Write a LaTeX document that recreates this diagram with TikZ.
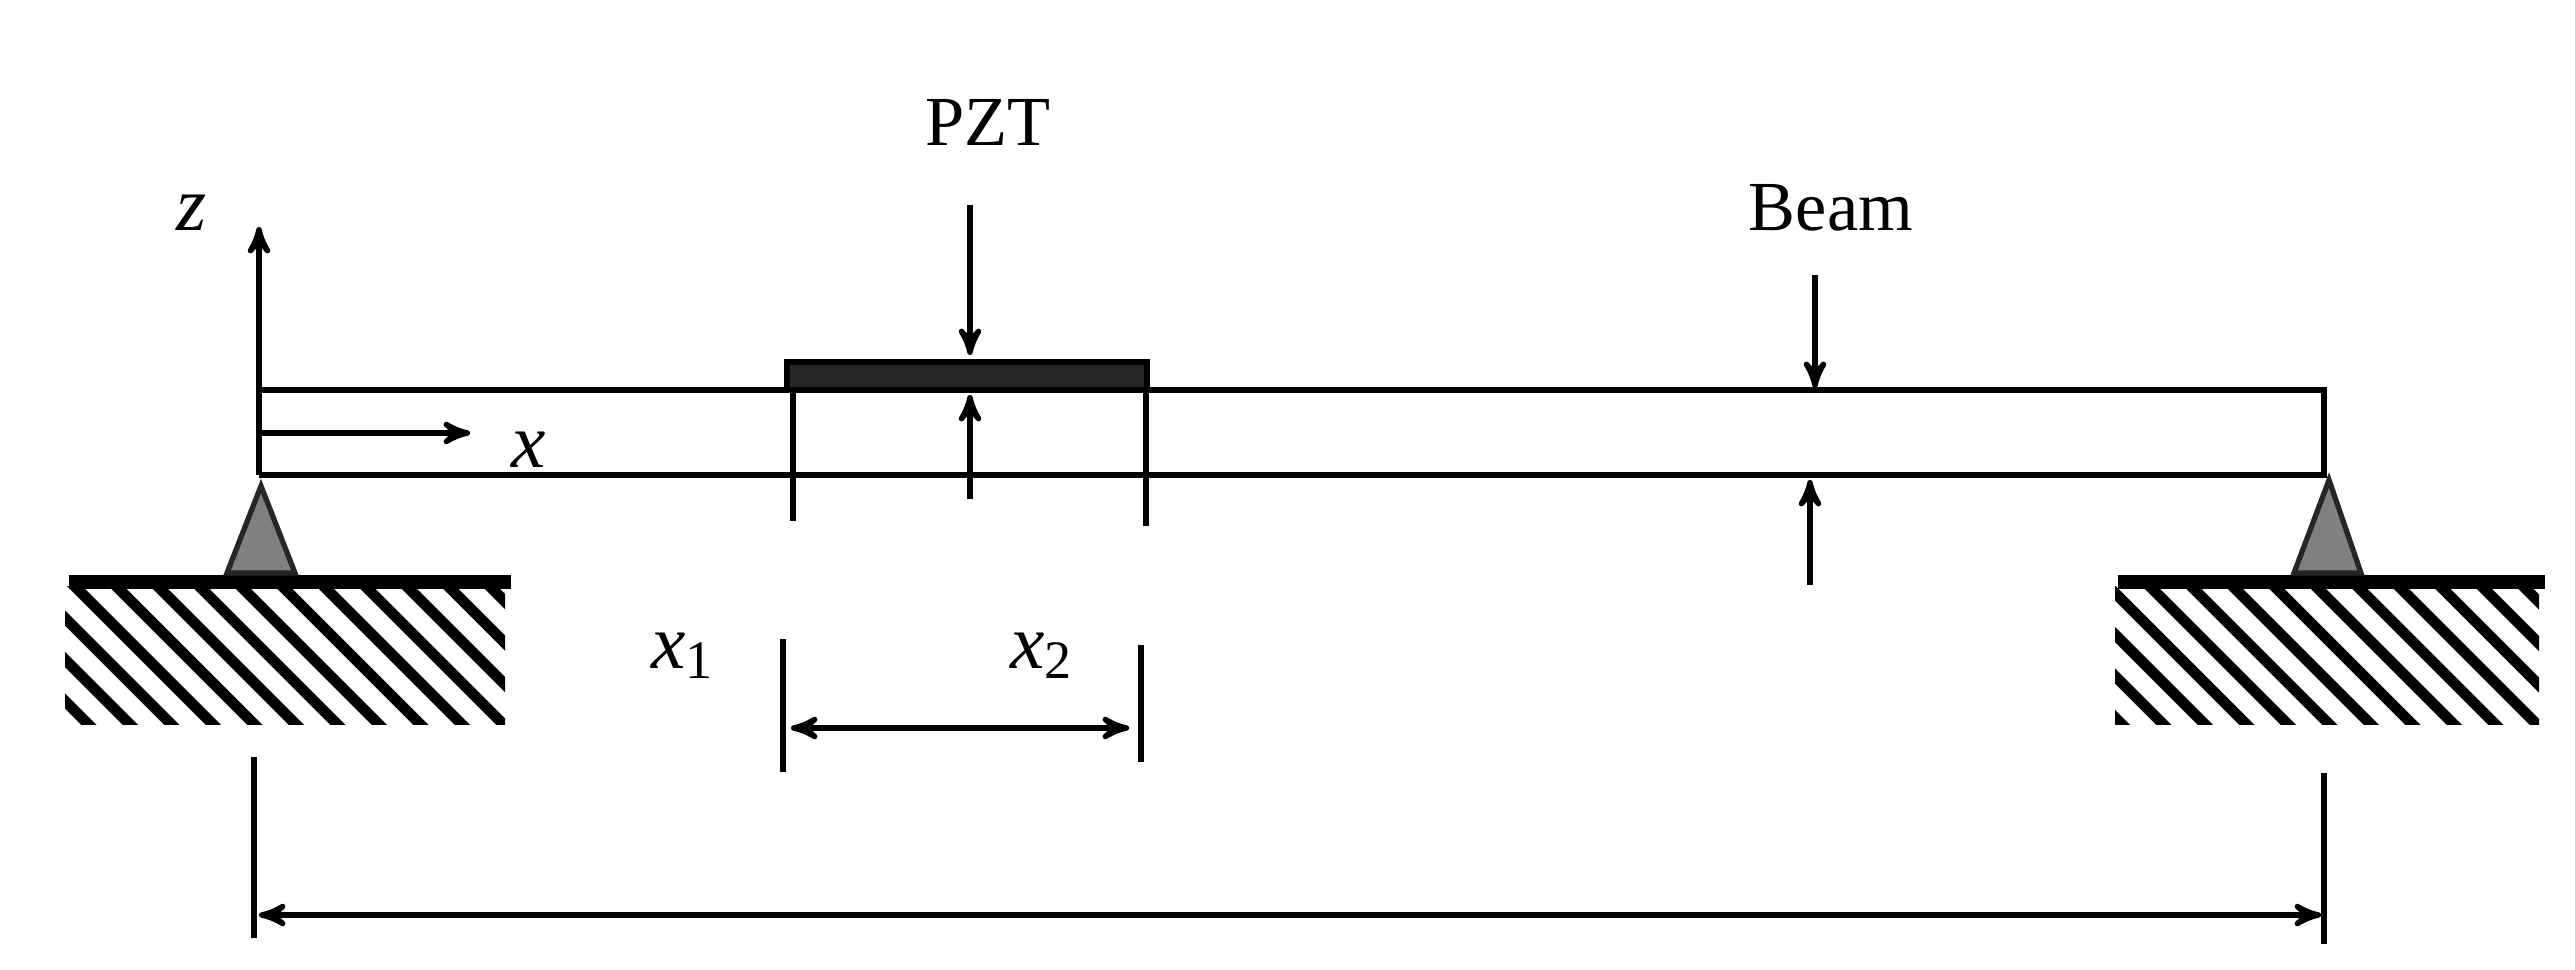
\documentclass[tikz,border=0pt]{standalone}
\usepackage{fontspec}
\setmainfont{Liberation Serif}
\usetikzlibrary{arrows}
\newcommand*\groundblock[3]{
	\begin{scope}
		\clip (#1,586) rectangle (#2,724);
		\foreach \k in {0,...,13}
			\draw[line width=3.1pt] ({#3+41.5*\k-150},574) -- ({#3+41.5*\k+10},734);
	\end{scope}
}

\begin{document}
\begin{tikzpicture}[x=0.01cm,y=-0.01cm,>=stealth',line width=1.55pt,
	lbl/.style={anchor=base,inner sep=0pt,font=\fontsize{20}{24}\selectfont},
	var/.style={anchor=base,inner sep=0pt,font=\fontsize{22}{26}\selectfont\itshape},
	support/.style={draw=black!85,fill=black!50,line width=1.5pt,line join=miter},
	ground/.style={line width=4pt}]
	\useasboundingbox (0,0) rectangle (2575,970);

	\node (pzt) [lbl] at (988,146) {PZT};
	\node (beam) [lbl] at (1831,231) {Beam};
	\node (z) [var] at (192,231) {z};
	\node (x) [var] at (529,467) {x};
	\node (xone) [var] at (683,668) {x\textsubscript{\upshape 1}};
	\node (xtwo) [var] at (1042,668) {x\textsubscript{\upshape 2}};

	\coordinate (topL) at (259,390);
	\coordinate (topR) at (2324,390);
	\coordinate (botL) at (259,475);
	\coordinate (botR) at (2324,475);
	\coordinate (ztip) at (259,227);
	\coordinate (xstart) at (259,433);
	\coordinate (xtip) at (470,433);

	% ground blocks and supports
	\groundblock{65}{505}{88}
	\groundblock{2115}{2539}{2121.5}
	\draw[ground] (69,582) -- (511,582);
	\draw[ground] (2118,582) -- (2545,582);
	\draw[support] (261,486) -- (295,573) -- (227,573) -- cycle;
	\draw[support] (2329,480) -- (2361,573) -- (2294,573) -- cycle;

	% beam and axes
	\draw (botL) -- (botR) -- (topR) -- (topL);
	\draw[->] (botL) -- (ztip);
	\draw[->] (xstart) -- (xtip);

	% patch
	\draw[fill=black!85] (787,362) rectangle (1147,390);
	\coordinate (patchA) at (793,390);
	\coordinate (patchB) at (1146,390);
	\coordinate (patchAend) at (793,521);
	\coordinate (patchBend) at (1146,526);
	\draw (patchA) -- (patchAend);
	\draw (patchB) -- (patchBend);

	% thickness arrows
	\coordinate (pztin) at (970,205);
	\coordinate (pzttip) at (970,355);
	\coordinate (pztout) at (970,499);
	\coordinate (pztback) at (970,395);
	\coordinate (beamin) at (1815,275);
	\coordinate (beamtip) at (1815,388);
	\coordinate (beamout) at (1810,585);
	\coordinate (beamback) at (1810,480);
	\draw[->] (pztin) -- (pzttip);
	\draw[->] (pztout) -- (pztback);
	\draw[->] (beamin) -- (beamtip);
	\draw[->] (beamout) -- (beamback);

	% dimensions
	\coordinate (xoneT) at (783,639);
	\coordinate (xoneB) at (783,772);
	\coordinate (xtwoT) at (1141,645);
	\coordinate (xtwoB) at (1141,762);
	\coordinate (xoneM) at (791,728);
	\coordinate (xtwoM) at (1129,728);
	\draw (xoneT) -- (xoneB);
	\draw (xtwoT) -- (xtwoB);
	\draw[<->] (xoneM) -- (xtwoM);

	\coordinate (spanLT) at (254,757);
	\coordinate (spanLB) at (254,938);
	\coordinate (spanRT) at (2324,773);
	\coordinate (spanRB) at (2324,944);
	\coordinate (spanL) at (259,915);
	\coordinate (spanR) at (2321,915);
	\draw (spanLT) -- (spanLB);
	\draw (spanRT) -- (spanRB);
	\draw[<->] (spanL) -- (spanR);
\end{tikzpicture}
\end{document}
